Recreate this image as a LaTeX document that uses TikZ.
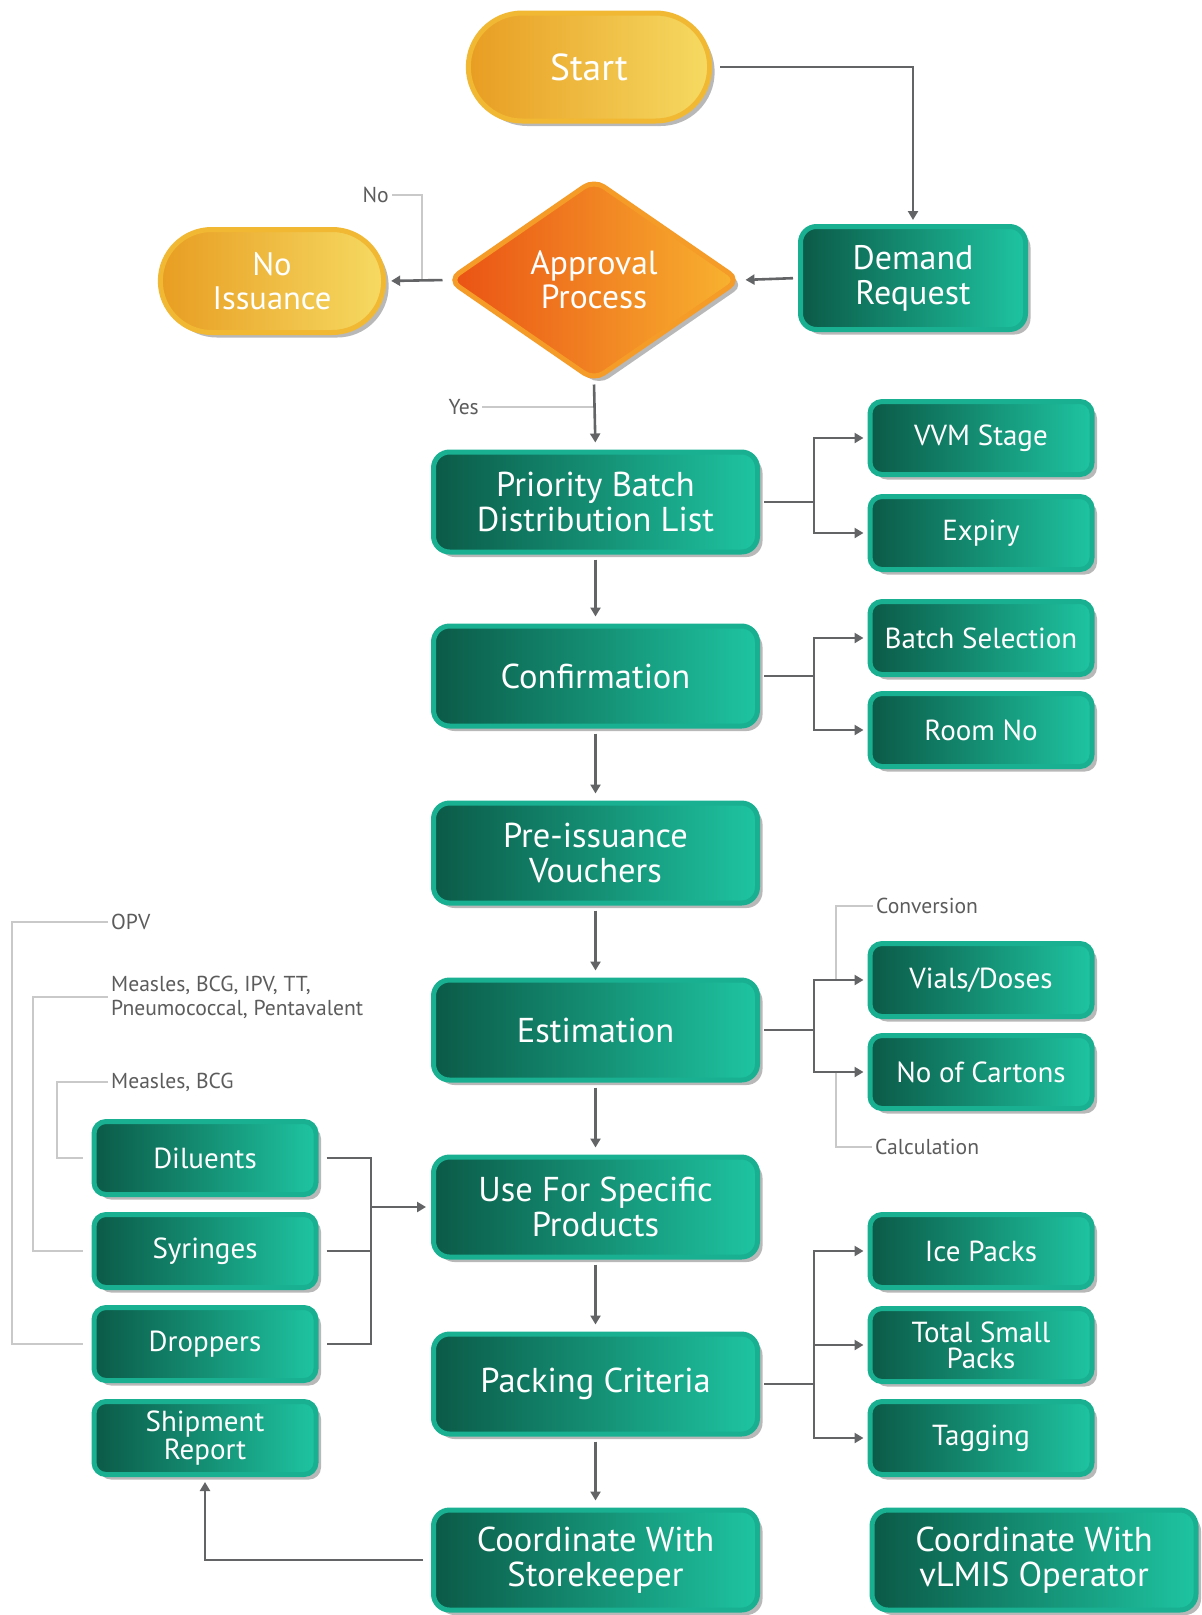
\documentclass[tikz,border=0pt]{standalone}
\usepackage{fontspec}
\setmainfont{PT Sans}
\usetikzlibrary{shapes.misc,shapes.geometric,shadows,arrows.meta,calc}
\definecolor{gdark}{HTML}{0B5A47}
\definecolor{glight}{HTML}{1EC4A1}
\definecolor{grim}{HTML}{19B092}
\definecolor{pillL}{HTML}{E89D22}
\definecolor{pillR}{HTML}{F6DA62}
\definecolor{pillrim}{HTML}{F1B833}
\definecolor{diaL}{HTML}{EA5114}
\definecolor{diaR}{HTML}{F8B430}
\definecolor{diarim}{HTML}{F59B28}
\definecolor{arrc}{HTML}{636466}
\definecolor{gryc}{HTML}{C9C9C9}
\definecolor{lblc}{HTML}{5C5C5C}
\tikzset{
  shad/.style={drop shadow={shadow xshift=5pt,shadow yshift=-5pt,opacity=0.28,fill=black}},
  mainbox/.style={shad, rectangle, rounded corners=16pt, draw=grim, line width=5pt,
    left color=gdark, right color=glight, text=white, align=center,
    minimum width=324pt, minimum height=100pt, inner sep=2pt,
    font=\fontsize{34.5}{35}\selectfont},
  smallbox/.style={mainbox, rounded corners=12pt, minimum width=222pt, minimum height=73pt,
    font=\fontsize{29}{27}\selectfont},
  pill/.style={shad, rounded rectangle, draw=pillrim, line width=5pt,
    left color=pillL, right color=pillR, text=white, align=center,
    minimum width=248pt, minimum height=108pt, font=\fontsize{32.5}{34}\selectfont},
  dia/.style={shad, diamond, rounded corners=12pt, draw=diarim, line width=5pt,
    left color=diaL, right color=diaR, text=white, align=center,
    minimum width=292pt, minimum height=202pt, inner sep=0pt,
    font=\fontsize{33.5}{34}\selectfont},
  lbl/.style={text=lblc, inner sep=3pt, align=left, font=\fontsize{21.6}{24}\selectfont},
  arr/.style={draw=arrc, line width=2.6pt, -{Triangle[length=9pt,width=10pt]}},
  ln/.style={draw=arrc, line width=2.6pt},
  gry/.style={draw=gryc, line width=2.6pt},
}
\begin{document}
\begin{tikzpicture}[x=1pt,y=-1pt]
\useasboundingbox (0,0) rectangle (1202,1615);
\fill[white] (0,0) rectangle (1202,1615);

% top
\node[pill, font=\fontsize{37.5}{40}\selectfont] (start) at (589,67) {Start};
\node[mainbox, minimum width=225pt, minimum height=103pt, font=\fontsize{34}{35}\selectfont] (demand) at (913,278) {Demand\\Request};
\node[dia] (approval) at (594,280) {Approval\\Process};
\node[pill, minimum width=230pt, minimum height=103pt] (noiss) at (272,281) {No\\Issuance};

% main column
\node[mainbox] (prio) at (595.5,502) {Priority Batch\\Distribution List};
\node[mainbox] (conf) at (595.5,676) {Confirmation};
\node[mainbox] (pre) at (595.5,853) {Pre-issuance\\Vouchers};
\node[mainbox] (est) at (595.5,1030) {Estimation};
\node[mainbox] (use) at (595.5,1207) {Use For Specific\\Products};
\node[mainbox] (pack) at (595.5,1384) {Packing Criteria};
\node[mainbox] (coord) at (595.5,1560) {Coordinate With\\Storekeeper};
\node[mainbox] (vlmis) at (1034,1560) {Coordinate With\\vLMIS Operator};

% right column
\node[smallbox] (vvm) at (981,438) {VVM Stage};
\node[smallbox] (expiry) at (981,533) {Expiry};
\node[smallbox] (batch) at (981,638) {Batch Selection};
\node[smallbox] (room) at (981,730) {Room No};
\node[smallbox] (vials) at (981,980) {Vials/Doses};
\node[smallbox] (cartons) at (981,1072) {No of Cartons};
\node[smallbox] (ice) at (981,1251) {Ice Packs};
\node[smallbox, font=\fontsize{29}{26}\selectfont] (total) at (981,1345) {Total Small\\Packs};
\node[smallbox] (tag) at (981,1438) {Tagging};

% left column
\node[smallbox] (dil) at (205,1158) {Diluents};
\node[smallbox] (syr) at (205,1251) {Syringes};
\node[smallbox] (drop) at (205,1344) {Droppers};
\node[smallbox, font=\fontsize{29}{26}\selectfont] (ship) at (205,1438) {Shipment\\Report};

% labels
\node[lbl, anchor=east] (nolbl) at (392,195) {No};
\node[lbl, anchor=east] (yeslbl) at (482,407) {Yes};
\node[lbl, anchor=west] (opv) at (108,922) {OPV};
\node[lbl, anchor=west] (meas1) at (108,997) {Measles, BCG, IPV, TT,\\Pneumococcal, Pentavalent};
\node[lbl, anchor=west] (meas2) at (108,1082) {Measles, BCG};
\node[lbl, anchor=west] (conv) at (873,906) {Conversion};
\node[lbl, anchor=west] (calcl) at (872,1147) {Calculation};

% coordinates for branch lines
\coordinate (bx) at (814,0);
\coordinate (gx) at (836,0);
\coordinate (lx) at (371,0);
\coordinate (gx1) at (12,0);
\coordinate (gx2) at (33,0);
\coordinate (gx3) at (57,0);
\coordinate (nojoin) at (422,280);

% gray label lines
\draw[gry] (nolbl.east) -| (nojoin);
\draw[gry] (yeslbl.east) -- (approval.south |- yeslbl.east);
\draw[gry] (opv.west) -| (gx1 |- drop.west) -- ([xshift=-9pt]drop.west);
\draw[gry] (meas1.west) -| (gx2 |- syr.west) -- ([xshift=-9pt]syr.west);
\draw[gry] (meas2.west) -| (gx3 |- dil.west) -- ([xshift=-9pt]dil.west);
\draw[gry] (conv.west) -| (gx |- vials.west);
\draw[gry] (calcl.west) -| (gx |- cartons.west);

% top arrows
\draw[arr, shorten <=8pt, shorten >=4pt] (start.east) -| (demand.north);
\draw[arr, shorten <=5pt, shorten >=3pt] (demand.west) -- (approval.east);
\draw[arr, shorten <=3pt, shorten >=5pt] (approval.west) -- (noiss.east);
\draw[arr, shorten <=1pt, shorten >=7pt] (approval.south) -- (prio.north);

% main column arrows
\foreach \a/\b in {prio/conf, conf/pre, pre/est, est/use, use/pack, pack/coord}
  \draw[arr, shorten <=5pt, shorten >=7pt] (\a.south) -- (\b.north);

% right branches
\foreach \s/\t/\u in {prio/vvm/expiry, conf/batch/room, est/vials/cartons}{
  \draw[ln, shorten <=4pt] (\s.east) -- (bx |- \s.east);
  \draw[arr, shorten >=4pt] (bx |- \s.east) |- (\t.west);
  \draw[arr, shorten >=4pt] (bx |- \s.east) |- (\u.west);
}
\draw[ln, shorten <=4pt] (pack.east) -- (bx |- pack.east);
\draw[arr, shorten >=4pt] (bx |- pack.east) |- (ice.west);
\draw[arr, shorten >=4pt] (bx |- pack.east) |- (total.west);
\draw[arr, shorten >=4pt] (bx |- pack.east) |- (tag.west);

% left branches
\draw[ln, shorten <=8pt, shorten >=8pt] (dil.east) -- (lx |- dil.east) -- (lx |- drop.east) -- (drop.east);
\draw[ln, shorten <=8pt] (syr.east) -- (lx |- syr.east);
\draw[arr, shorten >=5pt] (lx |- use.west) -- (use.west);

% storekeeper to shipment report
\draw[arr, shorten <=8pt, shorten >=5pt] (coord.west) -| (ship.south);
\end{tikzpicture}
\end{document}
